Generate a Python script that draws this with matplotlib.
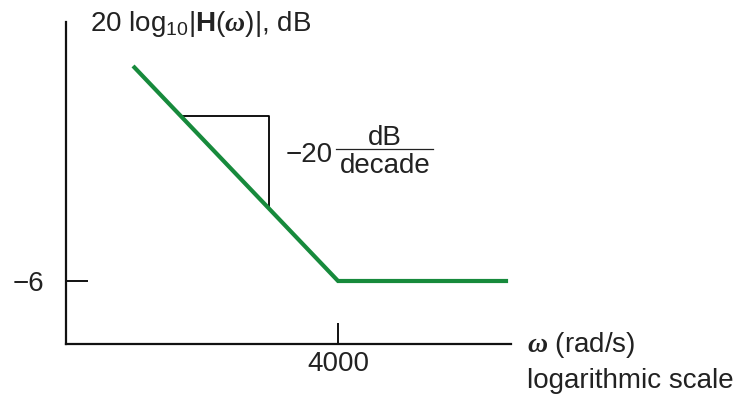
import numpy as np
import matplotlib
matplotlib.use("Agg")
import matplotlib.pyplot as plt

plt.rcParams["font.family"] = ["Liberation Sans", "DejaVu Sans"]
plt.rcParams["mathtext.fontset"] = "custom"
plt.rcParams["mathtext.rm"] = "Liberation Sans"
plt.rcParams["mathtext.it"] = "Liberation Sans:italic"
plt.rcParams["mathtext.bf"] = "Liberation Sans:bold"
plt.rcParams["mathtext.bfit"] = "Liberation Serif:italic:bold"

# Asymptotic magnitude response: -20 dB/decade down to the corner, then flat
omega = [400, 4000, 27000]          # rad/s
gain_db = [14, -6, -6]              # dB
corner_omega = 4000
floor_db = -6
slope_db_per_decade = -20

# Slope triangle drawn against the sloped segment
tri_omega = [680, 1840]

x_ticks = [4000]
x_tick_labels = ["4000"]
y_ticks = [-6]
y_tick_labels = ["\u22126"]

GREEN = "#178a3c"


def asymptote(w):
    w = np.asarray(w, dtype=float)
    return np.where(w < corner_omega,
                    floor_db + slope_db_per_decade * np.log10(w / corner_omega),
                    floor_db)


W, H = 735, 398
fig = plt.figure(figsize=(W / 100, H / 100), dpi=100)
ax = fig.add_axes([66 / W, 1 - 344 / H, (511 - 66) / W, (344 - 22) / H])

ax.set_xscale("log")
ax.set_xlim(188.4, 27900)
ax.set_ylim(-11.86, 18.09)

ax.plot(omega, gain_db, color=GREEN, lw=3.0, solid_capstyle="butt",
        solid_joinstyle="miter", zorder=3)

# slope triangle
y_top = float(asymptote(tri_omega[0]))
y_bot = float(asymptote(tri_omega[1]))
ax.plot([tri_omega[0], tri_omega[1], tri_omega[1]], [y_top, y_top, y_bot],
        color="black", lw=1.3, zorder=2)

for side in ("top", "right"):
    ax.spines[side].set_visible(False)
for side in ("left", "bottom"):
    ax.spines[side].set_linewidth(1.6)
    ax.spines[side].set_color("#111111")

ax.minorticks_off()
ax.set_xticks(x_ticks, x_tick_labels)
ax.set_yticks(y_ticks, y_tick_labels)
ax.tick_params(axis="both", direction="in", width=1.4, color="#111111",
               labelsize=20, labelcolor="#222222")
ax.tick_params(axis="y", length=15.8, pad=16)
ax.tick_params(axis="x", length=15, pad=5)

txt = dict(color="#222222", fontsize=20)

fig.text(90 / W, 1 - 31 / H,
         r"20 log$_{10}$|$\mathbf{H}(\mathbfit{\omega})$|, dB",
         ha="left", va="baseline", **txt)

# slope annotation: -20 dB/decade
fig.text(333 / W, 1 - 155 / H, "\u221220", ha="right", va="center", **txt)
fig.text(385 / W, 1 - 145 / H, "dB", ha="center", va="baseline", **txt)
fig.text(385 / W, 1 - 153 / H, "decade", ha="center", va="top", **txt)
fig.add_artist(plt.Line2D([336 / W, 433 / W], [1 - 149 / H, 1 - 149 / H],
                          color="#222222", lw=0.9))

fig.text(527 / W, 1 - 345 / H, r"$\mathbfit{\omega}$ (rad/s)",
         ha="left", va="center", **txt)
fig.text(527 / W, 1 - 381 / H, "logarithmic scale",
         ha="left", va="center", **txt)

fig.savefig("out.png", dpi=100, facecolor="white")
